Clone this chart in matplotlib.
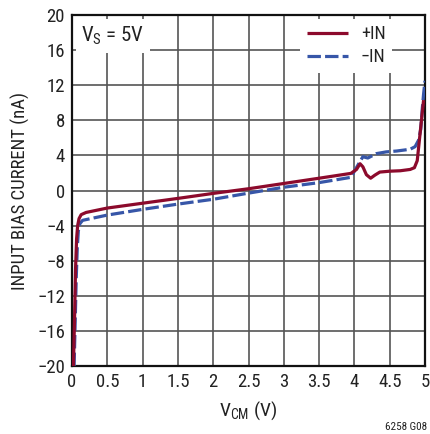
import matplotlib
matplotlib.use("Agg")
import matplotlib.pyplot as plt
import logging
logging.getLogger('matplotlib.font_manager').setLevel(logging.ERROR)

FONTS = ['Roboto Condensed', 'Archivo Narrow', 'PT Sans Narrow', 'DejaVu Sans']
plt.rcParams['font.family'] = FONTS
plt.rcParams['mathtext.fontset'] = 'custom'
plt.rcParams['mathtext.rm'] = 'Archivo Narrow'

# +IN data (V_CM in V, current in nA)
vcm_pos = [0.02, 0.035, 0.05, 0.065, 0.08, 0.10, 0.13, 0.2, 0.5, 1.0, 1.5, 2.0, 2.5, 3.0, 3.5, 3.95,
           4.03, 4.08, 4.12, 4.17, 4.23, 4.29, 4.36, 4.5, 4.65, 4.79, 4.85, 4.89, 4.92, 4.95, 4.98]
ib_pos = [-20, -15, -9, -5.5, -4.0, -3.2, -2.75, -2.5, -2.0, -1.45, -0.9, -0.33, 0.2, 0.8, 1.4, 1.95,
          2.4, 3.05, 2.7, 1.8, 1.4, 1.75, 2.1, 2.2, 2.25, 2.4, 2.6, 3.4, 5.7, 8.0, 10.3]

# -IN data
vcm_neg = [0.03, 0.045, 0.06, 0.075, 0.09, 0.11, 0.15, 0.5, 1.0, 1.5, 2.0, 2.5, 3.0, 3.5, 3.95,
           4.05, 4.12, 4.19, 4.31, 4.45, 4.6, 4.79, 4.86, 4.91, 4.94, 4.96, 4.98, 5.0]
ib_neg = [-20, -15, -10, -6.5, -4.6, -3.8, -3.4, -2.8, -2.15, -1.55, -1.0, -0.3, 0.37, 0.9, 1.5,
          2.9, 3.85, 3.7, 4.2, 4.4, 4.5, 4.7, 5.0, 5.75, 7.0, 9.2, 11.0, 12.5]

xticks = [0, 0.5, 1, 1.5, 2, 2.5, 3, 3.5, 4, 4.5, 5]
xticklabels = ['0', '0.5', '1', '1.5', '2', '2.5', '3', '3.5', '4', '4.5', '5']
yticks = [-20, -16, -12, -8, -4, 0, 4, 8, 12, 16, 20]
yticklabels = ['\u221220', '\u221216', '\u221212', '\u22128', '\u22124', '0', '4', '8', '12', '16', '20']

TXT = '#222222'

fig = plt.figure(figsize=(4.30, 4.34), dpi=100)
ax = fig.add_axes([72/430, 1 - 366/434, 353/430, 351/434])

ax.plot(vcm_pos, ib_pos, color='#8c0a2c', lw=2.3, label='+IN', zorder=4,
        solid_joinstyle='round', solid_capstyle='butt')
ax.plot(vcm_neg, ib_neg, color='#3756a8', lw=2.3, ls=(0, (4.2, 1.3)), label='\u2212IN', zorder=3)

ax.set_xlim(0, 5)
ax.set_ylim(-20, 20)
ax.set_xticks(xticks)
ax.set_xticklabels(xticklabels)
ax.set_yticks(yticks)
ax.set_yticklabels(yticklabels)
ax.tick_params(length=0, labelsize=13.5, pad=5, colors=TXT)
ax.grid(True, color='#555555', lw=1.2)
ax.set_axisbelow(True)
for s in ax.spines.values():
    s.set_linewidth(1.6)
    s.set_color('#111111')

ax.set_xlabel('V$_{\\mathregular{CM}}$ (V)', fontsize=14, labelpad=6, color=TXT)
ax.set_ylabel('INPUT BIAS CURRENT (nA)', fontsize=13.5, labelpad=5, color=TXT)

ax.text(0.13, 17.6, 'V$_{\\mathregular{S}}$ = 5V', fontsize=15, color=TXT, va='center', ha='left',
        bbox=dict(facecolor='white', edgecolor='none', pad=4), zorder=5)

leg = ax.legend(loc='upper right', fontsize=13, frameon=True, fancybox=False, framealpha=1,
                edgecolor='none', handlelength=2.3, borderpad=0.35, labelspacing=0.3,
                handletextpad=0.7, borderaxespad=0.0, bbox_to_anchor=(0.906, 0.99))
leg.set_zorder(6)
for t in leg.get_texts():
    t.set_color(TXT)

fig.text(427/430, 1 - 427/434, '6258 G08', fontsize=8, ha='right', va='center', color=TXT)

fig.savefig('out.png', dpi=100)
